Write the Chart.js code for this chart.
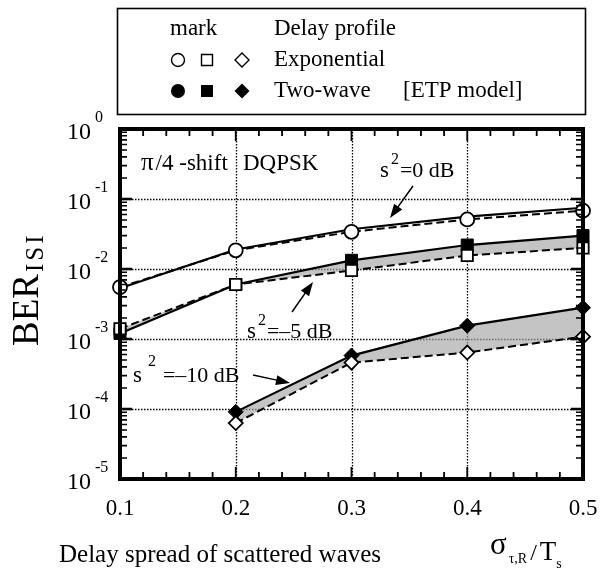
<!DOCTYPE html>
<html>
<head>
<meta charset="utf-8">
<script src="https://cdn.jsdelivr.net/npm/chart.js@4/dist/chart.umd.min.js"></script>
<style>
  html, body { margin: 0; padding: 0; background: #fff; }
  canvas { display: block; }
</style>
</head>
<body>
<canvas id="berChart" width="614" height="578"></canvas>
<script>
// delay spread sigma/Ts
const xValues = [0.1, 0.2, 0.3, 0.4, 0.5];
const xValues10 = [0.2, 0.3, 0.4, 0.5];

// s^2 = 0 dB
const expo0 = [5.5e-3, 1.85e-2, 3.4e-2, 5.1e-2, 6.8e-2];
const twoWave0 = [5.3e-3, 1.9e-2, 3.7e-2, 5.6e-2, 7.5e-2];
// s^2 = -5 dB
const expo5 = [1.4e-3, 6.0e-3, 9.5e-3, 1.56e-2, 2.0e-2];
const twoWave5 = [1.2e-3, 6.0e-3, 1.33e-2, 2.2e-2, 3.0e-2];
// s^2 = -10 dB
const expo10 = [6.3e-5, 4.6e-4, 6.4e-4, 1.08e-3];
const twoWave10 = [9.1e-5, 5.8e-4, 1.55e-3, 2.8e-3];

const yDecades = [-5, -4, -3, -2, -1, 0];
const xTickLabels = ['0.1', '0.2', '0.3', '0.4', '0.5'];

const SERIF = '"Liberation Serif", "DejaVu Serif", serif';
const shade = 'rgba(165,165,165,0.65)';

function pts(xs, ys) {
    return xs.map((x, i) => ({ x: x, y: ys[i] }));
}

function openSet(xs, ys, style, radius) {
    return {
        data: pts(xs, ys),
        borderColor: '#000',
        borderWidth: 2,
        borderDash: [8, 4],
        pointStyle: style,
        pointRadius: radius,
        pointBorderWidth: 1.8,
        pointBackgroundColor: '#fff',
        pointBorderColor: '#000',
        fill: false,
        clip: false
    };
}

function solidSet(xs, ys, style, radius, fill) {
    return {
        data: pts(xs, ys),
        borderColor: '#000',
        borderWidth: 2.2,
        pointStyle: style,
        pointRadius: radius,
        pointBorderWidth: 1,
        pointBackgroundColor: '#000',
        pointBorderColor: '#000',
        backgroundColor: shade,
        fill: fill,
        clip: false
    };
}

// text with a raised or lowered part, returns the x where it ended
function textRun(ctx, parts, x, y) {
    parts.forEach(p => {
        ctx.font = p.size + 'px ' + SERIF;
        ctx.fillText(p.t, x, y + (p.dy || 0));
        x += ctx.measureText(p.t).width + (p.gap || 0);
    });
    return x;
}

function arrow(ctx, x1, y1, x2, y2) {
    const a = Math.atan2(y2 - y1, x2 - x1);
    const len = 14, w = 5;
    ctx.beginPath();
    ctx.moveTo(x1, y1);
    ctx.lineTo(x2 - Math.cos(a) * len * 0.8, y2 - Math.sin(a) * len * 0.8);
    ctx.lineWidth = 1.5;
    ctx.stroke();
    ctx.beginPath();
    ctx.moveTo(x2, y2);
    ctx.lineTo(x2 - Math.cos(a) * len - Math.sin(a) * w, y2 - Math.sin(a) * len + Math.cos(a) * w);
    ctx.lineTo(x2 - Math.cos(a) * len + Math.sin(a) * w, y2 - Math.sin(a) * len - Math.cos(a) * w);
    ctx.closePath();
    ctx.fill();
}

function marker(ctx, style, x, y, filled) {
    ctx.beginPath();
    if (style === 'circle') {
        ctx.arc(x, y, filled ? 7 : 6.5, 0, Math.PI * 2);
    } else if (style === 'rect') {
        const s = filled ? 6 : 5.5;
        ctx.rect(x - s, y - s, 2 * s, 2 * s);
    } else {
        const r = filled ? 7.5 : 7;
        ctx.moveTo(x, y - r); ctx.lineTo(x + r, y); ctx.lineTo(x, y + r); ctx.lineTo(x - r, y);
        ctx.closePath();
    }
    if (filled) {
        ctx.fillStyle = '#000';
        ctx.fill();
    } else {
        ctx.fillStyle = '#fff';
        ctx.fill();
        ctx.lineWidth = 1.4;
        ctx.stroke();
    }
}

const axesPlugin = {
    id: 'axesPlugin',
    beforeDatasetsDraw(chart) {
        const { ctx, chartArea: a, scales: { x, y } } = chart;
        ctx.save();
        ctx.strokeStyle = '#000';
        ctx.lineWidth = 1.3;
        ctx.setLineDash([1.5, 1.5]);
        yDecades.forEach(d => {
            const py = Math.round(y.getPixelForValue(Math.pow(10, d))) + 0.5;
            if (py <= a.top + 2 || py >= a.bottom - 2) return;
            ctx.beginPath(); ctx.moveTo(a.left, py); ctx.lineTo(a.right, py); ctx.stroke();
        });
        xValues.forEach(v => {
            const px = Math.round(x.getPixelForValue(v)) + 0.5;
            if (px <= a.left + 2 || px >= a.right - 2) return;
            ctx.beginPath(); ctx.moveTo(px, a.top); ctx.lineTo(px, a.bottom); ctx.stroke();
        });
        ctx.restore();
    },
    afterDatasetsDraw(chart) {
        const { ctx, chartArea: a, scales: { x, y } } = chart;
        ctx.save();
        ctx.strokeStyle = '#000';
        ctx.fillStyle = '#000';

        // tick marks on all four sides
        ctx.lineWidth = 1.8;
        for (let i = 0; i <= 20; i++) {
            const v = 0.1 + i * 0.02;
            const px = x.getPixelForValue(v);
            const len = i % 5 === 0 ? 12 : 7;
            ctx.beginPath();
            ctx.moveTo(px, a.bottom); ctx.lineTo(px, a.bottom - len);
            ctx.moveTo(px, a.top); ctx.lineTo(px, a.top + len);
            ctx.stroke();
        }
        for (let d = -5; d < 0; d++) {
            for (let m = 1; m <= 9; m++) {
                const py = y.getPixelForValue(m * Math.pow(10, d));
                const len = m === 1 ? 12 : 7;
                ctx.lineWidth = m === 1 ? 2.5 : 1.6;
                ctx.beginPath();
                ctx.moveTo(a.left, py); ctx.lineTo(a.left + len, py);
                ctx.moveTo(a.right, py); ctx.lineTo(a.right - len, py);
                ctx.stroke();
            }
        }

        // heavy frame
        ctx.lineWidth = 4;
        ctx.strokeRect(a.left, a.top, a.right - a.left, a.bottom - a.top);

        // y tick labels 10^n
        ctx.textBaseline = 'alphabetic';
        ctx.textAlign = 'left';
        yDecades.forEach(d => {
            const py = y.getPixelForValue(Math.pow(10, d));
            textRun(ctx, [
                { t: '10', size: 24, gap: 4 },
                { t: d === 0 ? '0' : '-' + (-d), size: 16, dy: -17 }
            ], 67, py + 10);
        });

        // x tick labels
        ctx.textAlign = 'center';
        ctx.font = '23px ' + SERIF;
        xTickLabels.forEach((t, i) => {
            ctx.fillText(t, x.getPixelForValue(xValues[i]), 515);
        });

        // axis titles
        ctx.textAlign = 'left';
        ctx.font = '25px ' + SERIF;
        ctx.fillText('Delay spread of scattered waves', 59, 562);
        let ex = textRun(ctx, [{ t: 'σ', size: 31, gap: 2 }], 490, 554);
        ex = textRun(ctx, [{ t: 'τ,R', size: 14, dy: 9, gap: 3 }], ex, 554);
        ex = textRun(ctx, [{ t: '/', size: 24, gap: 3 }, { t: 'T', size: 27 }], ex, 560);
        textRun(ctx, [{ t: 's', size: 14 }], ex, 568);

        ctx.save();
        ctx.translate(38, 346);
        ctx.rotate(-Math.PI / 2);
        textRun(ctx, [
            { t: 'BER', size: 37, gap: 2 },
            { t: 'I', size: 25, dy: 5, gap: 3 },
            { t: 'S', size: 25, dy: 5, gap: 3 },
            { t: 'I', size: 25, dy: 5 }
        ], 0, 0);
        ctx.restore();

        // annotations inside the plot
        textRun(ctx, [{ t: 'π', size: 25, gap: 2 }, { t: '/4 -shift', size: 23, gap: 0 }], 141, 170);
        textRun(ctx, [{ t: 'DQPSK', size: 23 }], 243, 170);

        textRun(ctx, [{ t: 's', size: 23, gap: 2 }, { t: '2', size: 16, dy: -13, gap: 1 }, { t: '=0 dB', size: 22 }], 380, 177);
        arrow(ctx, 413, 186, 390, 218);

        textRun(ctx, [{ t: 's', size: 23, gap: 2 }, { t: '2', size: 16, dy: -13, gap: 1 }, { t: '=–5 dB', size: 22 }], 247, 338);
        arrow(ctx, 292, 312, 313, 282);

        textRun(ctx, [{ t: 's', size: 23, gap: 6 }, { t: '2', size: 16, dy: -16, gap: 7 }, { t: '=–10 dB', size: 22 }], 133, 382);
        arrow(ctx, 253, 375, 290, 383);

        // legend box
        ctx.lineWidth = 1.6;
        ctx.strokeRect(117.5, 8.5, 468, 106);
        ctx.font = '23px ' + SERIF;
        ctx.fillText('mark', 170, 35);
        ctx.fillText('Delay profile', 274, 35);
        ctx.fillText('Exponential', 274, 66);
        ctx.fillText('Two-wave', 274, 97);
        ctx.fillText('[ETP model]', 403, 97);
        marker(ctx, 'circle', 178, 60, false);
        marker(ctx, 'rect', 207, 60, false);
        marker(ctx, 'diamond', 242, 60, false);
        marker(ctx, 'circle', 178, 91, true);
        marker(ctx, 'rect', 207, 91, true);
        marker(ctx, 'diamond', 242, 91, true);

        ctx.restore();
    }
};

const ctx = document.getElementById('berChart').getContext('2d');
const berChart = new Chart(ctx, {
    type: 'line',
    data: {
        datasets: [
            openSet(xValues, expo0, 'circle', 7),
            solidSet(xValues, twoWave0, 'circle', 0, false),
            openSet(xValues, expo5, 'rect', 8),
            solidSet(xValues, twoWave5, 'rect', 8.5, '-1'),
            openSet(xValues10, expo10, 'rectRot', 7),
            solidSet(xValues10, twoWave10, 'rectRot', 7.5, '-1')
        ]
    },
    options: {
        responsive: false,
        animation: false,
        layout: { padding: { left: 120, right: 31, top: 129, bottom: 99 } },
        plugins: { legend: { display: false }, tooltip: { enabled: false } },
        elements: { line: { tension: 0 } },
        scales: {
            x: { type: 'linear', min: 0.1, max: 0.5, display: false },
            y: { type: 'logarithmic', min: 1e-5, max: 1, display: false }
        }
    },
    plugins: [axesPlugin]
});
</script>
</body>
</html>
